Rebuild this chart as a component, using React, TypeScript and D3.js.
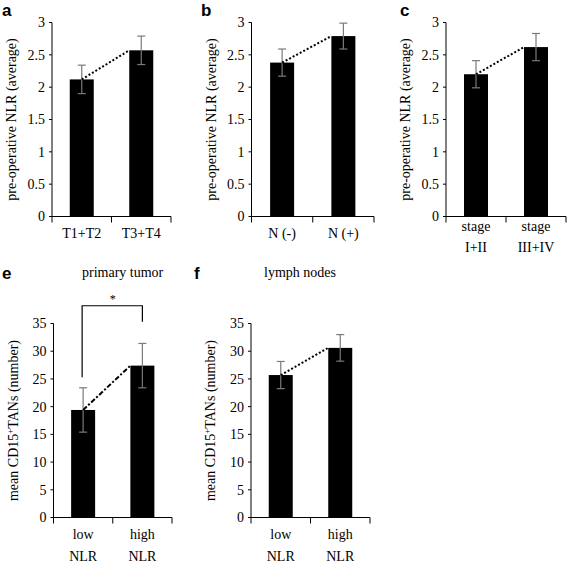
import React from "react";
import * as d3 from "d3";

// ---------- data ----------
const catsA = [["T1+T2"], ["T3+T4"]];
const meanA = [2.12, 2.57];
const errA = [0.22, 0.22];

const catsB = [["N (-)"], ["N (+)"]];
const meanB = [2.38, 2.79];
const errB = [0.21, 0.2];

const catsC = [["stage", "I+II"], ["stage", "III+IV"]];
const meanC = [2.2, 2.62];
const errC = [0.21, 0.21];

const catsE = [["low", "NLR"], ["high", "NLR"]];
const meanE = [19.4, 27.4];
const errE = [4.0, 4.0];

const catsF = [["low", "NLR"], ["high", "NLR"]];
const meanF = [25.7, 30.6];
const errF = [2.45, 2.4];

const ticksTop = [0, 0.5, 1, 1.5, 2, 2.5, 3];
const ticksBottom = [0, 5, 10, 15, 20, 25, 30, 35];

// significance bracket for panel e (data units)
const bracketE = { top: 38.2, leftBottom: 25.3, rightBottom: 35.3, label: "*" };

const SERIF = "'Liberation Serif', 'Times New Roman', serif";
const SANS = "'Liberation Sans', Arial, sans-serif";

type PanelProps = {
  axisX: number;
  axisEnd: number;
  yTop: number;
  yBottom: number;
  max: number;
  ticks: number[];
  cats: string[][];
  means: number[];
  errs: number[];
  yLabel: React.ReactNode;
  letter: string;
  letterX: number;
  letterY: number;
  title?: string;
  titleX?: number;
  titleY?: number;
  dash: string;
  catY: number;
  catGap: number;
  bracket?: { top: number; leftBottom: number; rightBottom: number; label: string };
};

function Panel(p: PanelProps) {
  const y = d3.scaleLinear().domain([0, p.max]).range([p.yBottom, p.yTop]);
  const x = d3
    .scaleBand<number>()
    .domain(p.means.map((_, i) => i))
    .range([p.axisX, p.axisEnd]);
  const barW = 24;
  const cx = (i: number) => (x(i) as number) + x.bandwidth() / 2;
  const midY = (p.yTop + p.yBottom) / 2;
  return (
    <g>
      <text x={p.letterX} y={p.letterY} fontFamily={SANS} fontWeight="bold" fontSize={17} fill="#000">
        {p.letter}
      </text>
      {p.title && (
        <text x={p.titleX} y={p.titleY} fontFamily={SERIF} fontSize={14} fill="#000">
          {p.title}
        </text>
      )}
      {/* bars */}
      {p.means.map((m, i) => (
        <rect key={i} x={cx(i) - barW / 2} y={y(m)} width={barW} height={y(0) - y(m)} fill="#000" />
      ))}
      {/* error bars */}
      {p.means.map((m, i) => (
        <g key={"e" + i} stroke="#7a7a7a" strokeWidth={1.2}>
          <line x1={cx(i)} x2={cx(i)} y1={y(m + p.errs[i])} y2={y(m - p.errs[i])} />
          <line x1={cx(i) - 4} x2={cx(i) + 4} y1={y(m + p.errs[i])} y2={y(m + p.errs[i])} />
          <line x1={cx(i) - 4} x2={cx(i) + 4} y1={y(m - p.errs[i])} y2={y(m - p.errs[i])} />
        </g>
      ))}
      {/* trend line */}
      <line
        x1={cx(0)}
        y1={y(p.means[0])}
        x2={cx(1) - barW / 2}
        y2={y(p.means[1])}
        stroke="#000"
        strokeWidth={2}
        strokeDasharray={p.dash}
      />
      {/* y axis */}
      <line x1={p.axisX} x2={p.axisX} y1={p.yTop} y2={p.yBottom} stroke="#000" strokeWidth={1} />
      {p.ticks.map((t) => (
        <g key={t}>
          <line x1={p.axisX - 3} x2={p.axisX} y1={y(t)} y2={y(t)} stroke="#000" strokeWidth={1} />
          <text
            x={p.axisX - 7}
            y={y(t)}
            dy="0.35em"
            textAnchor="end"
            fontFamily={SERIF}
            fontSize={14}
            fill="#000"
          >
            {t}
          </text>
        </g>
      ))}
      {/* x axis */}
      <line x1={p.axisX} x2={p.axisEnd} y1={p.yBottom} y2={p.yBottom} stroke="#000" strokeWidth={1} />
      {[0, 1, 2].map((k) => {
        const xx = p.axisX + (k * (p.axisEnd - p.axisX)) / 2;
        return <line key={k} x1={xx} x2={xx} y1={p.yBottom} y2={p.yBottom + 6} stroke="#000" strokeWidth={1} />;
      })}
      {p.cats.map((lines, i) =>
        lines.map((l, j) => (
          <text
            key={i + "-" + j}
            x={cx(i)}
            y={p.catY + j * p.catGap}
            textAnchor="middle"
            fontFamily={SERIF}
            fontSize={14}
            fill="#000"
          >
            {l}
          </text>
        ))
      )}
      {/* y label */}
      <text
        transform={`translate(${p.axisX - 36},${midY}) rotate(-90)`}
        textAnchor="middle"
        fontFamily={SERIF}
        fontSize={14}
        fill="#000"
      >
        {p.yLabel}
      </text>
      {p.bracket && (
        <g stroke="#000" strokeWidth={1.2} fill="none">
          <polyline
            points={`${cx(0) - 1},${y(p.bracket.leftBottom)} ${cx(0) - 1},${y(p.bracket.top)} ${cx(1)},${y(
              p.bracket.top
            )} ${cx(1)},${y(p.bracket.rightBottom)}`}
          />
        </g>
      )}
      {p.bracket && (
        <text
          x={(cx(0) + cx(1)) / 2}
          y={y(p.bracket.top) - 3}
          textAnchor="middle"
          fontFamily={SERIF}
          fontSize={12}
          fill="#000"
        >
          {p.bracket.label}
        </text>
      )}
    </g>
  );
}

const nlrLabel = "pre-operative NLR (average)";
const tanLabel = (
  <>
    mean CD15
    <tspan baselineShift="super" fontSize={9}>
      +
    </tspan>
    TANs (number)
  </>
);

export default function App() {
  return (
    <svg width={567} height={563} style={{ position: "absolute", left: 0, top: 0, background: "#fff" }}>
      <rect width={567} height={563} fill="#fff" />
      <Panel
        axisX={52} axisEnd={171} yTop={22.5} yBottom={216.5} max={3} ticks={ticksTop}
        cats={catsA} means={meanA} errs={errA} yLabel={nlrLabel}
        letter="a" letterX={2} letterY={16} dash="2,2" catY={238} catGap={21}
      />
      <Panel
        axisX={251.5} axisEnd={374} yTop={22.5} yBottom={216.5} max={3} ticks={ticksTop}
        cats={catsB} means={meanB} errs={errB} yLabel={nlrLabel}
        letter="b" letterX={201} letterY={16} dash="2,2" catY={238} catGap={21}
      />
      <Panel
        axisX={446} axisEnd={566} yTop={22.5} yBottom={216.5} max={3} ticks={ticksTop}
        cats={catsC} means={meanC} errs={errC} yLabel={nlrLabel}
        letter="c" letterX={400} letterY={16} dash="2,2" catY={231} catGap={21}
      />
      <Panel
        axisX={53.5} axisEnd={172} yTop={323.5} yBottom={517.5} max={35} ticks={ticksBottom}
        cats={catsE} means={meanE} errs={errE} yLabel={tanLabel}
        letter="e" letterX={2} letterY={279} title="primary tumor" titleX={82} titleY={277}
        dash="5,2,2,2" catY={539} catGap={22} bracket={bracketE}
      />
      <Panel
        axisX={251} axisEnd={370} yTop={323.5} yBottom={517.5} max={35} ticks={ticksBottom}
        cats={catsF} means={meanF} errs={errF} yLabel={tanLabel}
        letter="f" letterX={194} letterY={279} title="lymph nodes" titleX={264} titleY={277}
        dash="2,2" catY={539} catGap={22}
      />
    </svg>
  );
}
